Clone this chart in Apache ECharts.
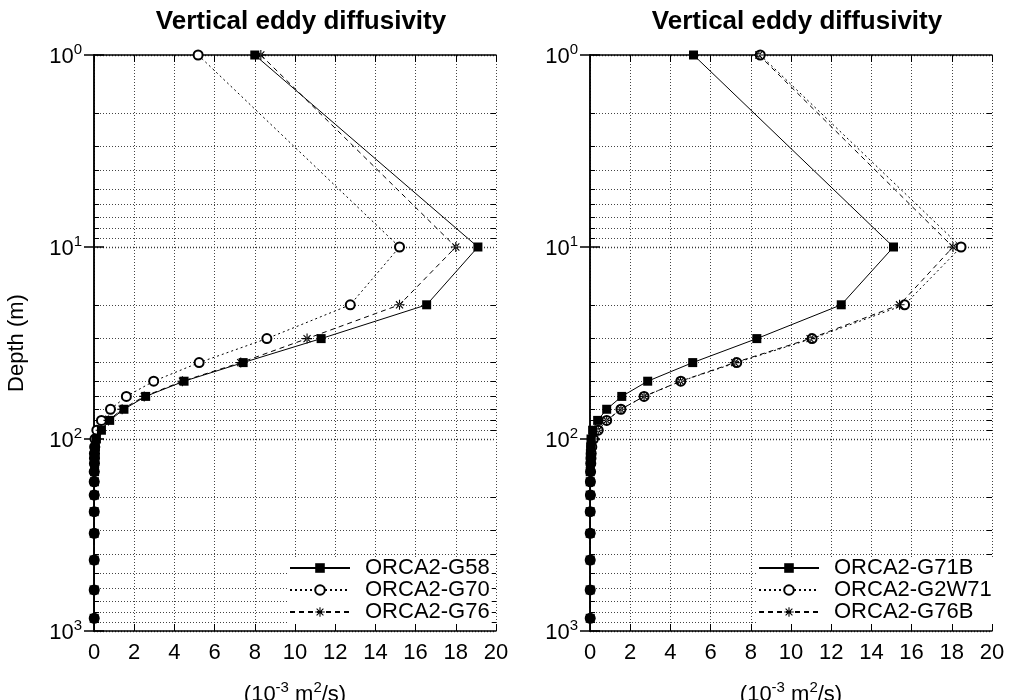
<!DOCTYPE html>
<html><head><meta charset="utf-8">
<script src="https://cdn.jsdelivr.net/npm/echarts@6/dist/echarts.min.js"></script>
<style>html,body{margin:0;padding:0;background:#fff}#c{width:1012px;height:700px}</style>
</head><body><div id="c"></div>
<script>
// ---- data ----
const depths = [1,10,20,30,40,50,60,70,80,90,100,110,119,126,134,148,167,196,239,310,427,611,859];
const G58   = [8.0,19.1,16.55,11.3,7.42,4.48,2.57,1.49,0.78,0.37,0.12,0.07,0.05,0.04,0.03,0.03,0.02,0.02,0.01,0.01,0.01,0.01,0.01];
const G70   = [5.18,15.2,12.75,8.6,5.23,2.97,1.61,0.82,0.37,0.14,0.05,0.03,0.02,0.02,0.02,0.01,0.01,0.01,0.01,0.01,0.01,0.01,0.01];
const G76   = [8.3,18.0,15.2,10.6,7.3,4.4,2.5,1.4,0.72,0.33,0.13,0.07,0.05,0.04,0.03,0.03,0.02,0.02,0.01,0.01,0.01,0.01,0.01];
const G71B  = [5.15,15.1,12.5,8.3,5.11,2.87,1.58,0.83,0.38,0.13,0.05,0.03,0.02,0.02,0.02,0.01,0.01,0.01,0.01,0.01,0.01,0.01,0.01];
const G2W71 = [8.47,18.46,15.65,11.05,7.3,4.52,2.69,1.54,0.83,0.41,0.17,0.09,0.06,0.05,0.04,0.03,0.02,0.02,0.01,0.01,0.01,0.01,0.01];
const G76B  = [8.4,18.06,15.4,10.95,7.2,4.5,2.69,1.54,0.83,0.41,0.17,0.09,0.06,0.05,0.04,0.03,0.02,0.02,0.01,0.01,0.01,0.01,0.01];
const namesLeft  = ['ORCA2-G58','ORCA2-G70','ORCA2-G76'];
const namesRight = ['ORCA2-G71B','ORCA2-G2W71','ORCA2-G76B'];
const xTicks = [0,2,4,6,8,10,12,14,16,18,20];
const minorDepths = [2,3,4,5,6,7,8,9,20,30,40,50,60,70,80,90,200,300,400,500,600,700,800,900];
const titleText = 'Vertical eddy diffusivity';
const yName = 'Depth (m)';

// ---- build ----
const FONT = '"Liberation Sans", Arial, sans-serif';
const pairs = arr => arr.map((v,i)=>[v, depths[i]]);
const starPath = 'path://M-5,-0.55L5,-0.55L5,0.55L-5,0.55Z M-0.55,-5L0.55,-5L0.55,5L-0.55,5Z M-3.93,-3.15L3.15,3.93L3.93,3.15L-3.15,-3.93Z M-3.15,3.93L3.93,-3.15L3.15,-3.93L-3.93,3.15Z';
const styles = [
  {symbol:'rect', symbolSize:9, line:{type:'solid'}, z:5},
  {symbol:'emptyCircle', symbolSize:9, line:{type:[2,3]}, z:3},
  {symbol:starPath, symbolSize:10, line:{type:[5,4]}, z:4}
];
const gridDef = [
  {left:94, top:55, width:402, height:576, outerBoundsMode:'none', containLabel:false},
  {left:590, top:55, width:402, height:576, outerBoundsMode:'none', containLabel:false}
];
const dotted = {color:'#444', width:1, type:[1,2]};

function minorMarks(){
  const d = [];
  minorDepths.forEach(m=>{
    d.push({yAxis:m, lineStyle:dotted});
    d.push([{coord:[xTicks[0],m], lineStyle:{color:'#000',width:1,type:'solid'}},{coord:[xTicks[0]+0.25,m]}]);
    d.push([{coord:[xTicks[xTicks.length-1]-0.25,m], lineStyle:{color:'#000',width:1,type:'solid'}},{coord:[xTicks[xTicks.length-1],m]}]);
  });
  return {silent:true, symbol:['none','none'], label:{show:false}, lineStyle:dotted, data:d, animation:false, z:1};
}

const supFmt = v => '{b|10}{s|' + Math.round(Math.log10(v)) + '}';
const rich = {b:{fontSize:22, fontFamily:FONT, color:'#000', lineHeight:26, verticalAlign:'bottom'},
              s:{fontSize:15, fontFamily:FONT, color:'#000', lineHeight:14, verticalAlign:'top'}};

const xAxes = [], yAxes = [];
[0,1].forEach(g=>{
  xAxes.push({gridIndex:g, type:'value', min:0, max:20, interval:2, position:'bottom',
    axisLine:{show:true, lineStyle:{color:'#000', width:1.5}},
    axisTick:{show:true, inside:true, length:7, lineStyle:{color:'#000', width:1}},
    axisLabel:{show:true, fontSize:22, fontFamily:FONT, color:'#000', margin:11},
    splitLine:{show:true, lineStyle:dotted},
    name:'{t|(10}{s|-3}{t| m}{s|2}{t|/s)}', nameLocation:'middle', nameGap:49,
    nameTextStyle:{rich:{t:{fontSize:22, fontFamily:FONT, color:'#000', lineHeight:26, verticalAlign:'bottom'},
                         s:{fontSize:15, fontFamily:FONT, color:'#000', lineHeight:14, verticalAlign:'top'}}}
  });
  xAxes.push({gridIndex:g, type:'value', min:0, max:20, interval:2, position:'top',
    axisLine:{show:true, lineStyle:{color:'#000', width:1.5}},
    axisTick:{show:true, inside:true, length:7, lineStyle:{color:'#000', width:1}},
    axisLabel:{show:false}, splitLine:{show:false}});
  yAxes.push({gridIndex:g, type:'log', logBase:10, min:1, max:1000, inverse:true, position:'left',
    axisLine:{show:true, lineStyle:{color:'#000', width:1.5}},
    axisTick:{show:true, inside:true, length:10, lineStyle:{color:'#000', width:1.5}},
    axisLabel:{show:true, formatter:supFmt, rich:rich, margin:12},
    splitLine:{show:true, lineStyle:{color:'#333', width:1.3, type:[1,2]}},
    name: g===0 ? yName : '', nameLocation:'middle', nameGap:66, nameRotate:90,
    nameTextStyle:{fontSize:22, fontFamily:FONT, color:'#000'}
  });
  yAxes.push({gridIndex:g, type:'log', logBase:10, min:1, max:1000, inverse:true, position:'right',
    axisLine:{show:true, lineStyle:{color:'#000', width:1.5}},
    axisTick:{show:true, inside:true, length:10, lineStyle:{color:'#000', width:1.5}},
    axisLabel:{show:false}, splitLine:{show:false}});
});

function mkSeries(name, arr, k, g, withMarks){
  const st = styles[k];
  const s = {name, type:'line', xAxisIndex:g*2, yAxisIndex:g*2, data:pairs(arr),
    symbol:st.symbol, symbolSize:st.symbolSize, showSymbol:true,
    lineStyle:{color:'#000', width:1, type:st.line.type},
    itemStyle:{color:'#000', borderColor:'#000', borderWidth: k===1?1:0},
    animation:false, z:st.z};
  if (withMarks) s.markLine = minorMarks();
  return s;
}

const series = [
  mkSeries(namesLeft[0], G58, 0, 0, true),
  mkSeries(namesLeft[1], G70, 1, 0, false),
  mkSeries(namesLeft[2], G76, 2, 0, false),
  mkSeries(namesRight[0], G71B, 0, 1, true),
  mkSeries(namesRight[1], G2W71, 1, 1, false),
  mkSeries(namesRight[2], G76B, 2, 1, false)
];

const legendBase = {orient:'vertical', itemWidth:60, itemHeight:12, itemGap:0, backgroundColor:'#fff',
  padding:[0,2,0,0], align:'left', selectedMode:false, z:8,
  textStyle:{fontSize:22, fontFamily:FONT, color:'#000', lineHeight:22, padding:[0,0,0,10]}};

const option = {
  backgroundColor:'#fff',
  animation:false,
  title:[
    {text:titleText, left:296, top:4, textAlign:'center', textStyle:{fontSize:26, fontWeight:'bold', fontFamily:FONT, color:'#000'}},
    {text:titleText, left:792, top:4, textAlign:'center', textStyle:{fontSize:26, fontWeight:'bold', fontFamily:FONT, color:'#000'}}
  ],
  grid: gridDef,
  xAxis: xAxes,
  yAxis: yAxes,
  legend:[
    Object.assign({}, legendBase, {data:namesLeft, left:289, top:557}),
    Object.assign({}, legendBase, {data:namesRight, left:758, top:557})
  ],
  series
};
const chart = echarts.init(document.getElementById('c'), null, {renderer:'canvas'});
chart.setOption(option);
</script></body></html>
